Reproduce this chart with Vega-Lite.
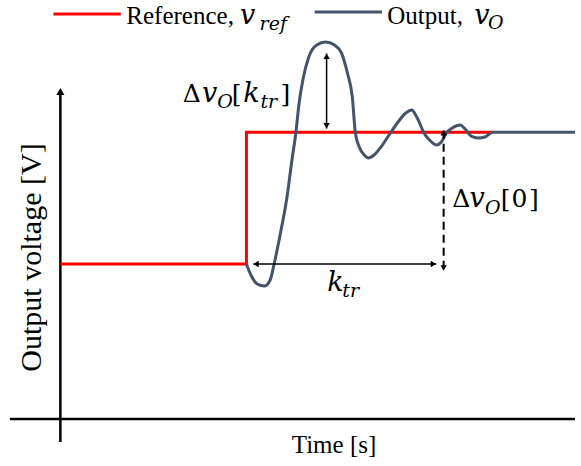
{
  "$schema": "https://vega.github.io/schema/vega-lite/v6.json",
  "width": 581,
  "height": 466,
  "autosize": {"type": "fit", "contains": "padding"},
  "padding": 0,
  "background": "white",
  "config": {"view": {"stroke": null}},
  "encoding": {
    "x": {"field": "t", "type": "quantitative", "scale": {"domain": [-3.245, 27.66], "nice": false, "zero": false}, "axis": null},
    "y": {"field": "v", "type": "quantitative", "scale": {"domain": [-0.606, 5.406], "nice": false, "zero": false}, "axis": null}
  },
  "datasets": {
    "reference": [
      {"i": 0, "t": 0, "v": 2.0},
      {"i": 1, "t": 10, "v": 2.0},
      {"i": 2, "t": 10, "v": 3.7},
      {"i": 3, "t": 23.245, "v": 3.7}
    ],
    "output": [
      {"t": 10.0, "v": 2.0},
      {"t": 10.266, "v": 1.845},
      {"t": 10.585, "v": 1.742},
      {"t": 10.957, "v": 1.716},
      {"t": 11.277, "v": 1.794},
      {"t": 11.489, "v": 2.0},
      {"t": 11.809, "v": 2.374},
      {"t": 12.181, "v": 2.865},
      {"t": 12.447, "v": 3.342},
      {"t": 12.66, "v": 3.7},
      {"t": 12.819, "v": 4.052},
      {"t": 13.032, "v": 4.374},
      {"t": 13.351, "v": 4.671},
      {"t": 13.777, "v": 4.826},
      {"t": 14.255, "v": 4.865},
      {"t": 14.734, "v": 4.826},
      {"t": 15.106, "v": 4.723},
      {"t": 15.426, "v": 4.465},
      {"t": 15.691, "v": 4.155},
      {"t": 15.851, "v": 3.7},
      {"t": 16.064, "v": 3.51},
      {"t": 16.33, "v": 3.406},
      {"t": 16.543, "v": 3.368},
      {"t": 16.862, "v": 3.406},
      {"t": 17.234, "v": 3.51},
      {"t": 17.766, "v": 3.7},
      {"t": 18.191, "v": 3.845},
      {"t": 18.564, "v": 3.948},
      {"t": 18.883, "v": 3.987},
      {"t": 19.096, "v": 3.923},
      {"t": 19.309, "v": 3.819},
      {"t": 19.521, "v": 3.7},
      {"t": 19.84, "v": 3.6},
      {"t": 20.213, "v": 3.535},
      {"t": 20.479, "v": 3.574},
      {"t": 20.745, "v": 3.69},
      {"t": 21.064, "v": 3.755},
      {"t": 21.489, "v": 3.794},
      {"t": 21.755, "v": 3.742},
      {"t": 22.074, "v": 3.652},
      {"t": 22.447, "v": 3.626},
      {"t": 22.819, "v": 3.639},
      {"t": 23.245, "v": 3.7},
      {"t": 27.66, "v": 3.7}
    ],
    "axes": [
      {"name": "time", "t": -2.713, "t2": 27.66, "v": 0, "v2": 0},
      {"name": "voltage", "t": 0, "t2": 0, "v": -0.297, "v2": 4.226}
    ],
    "axis_tip": [{"t": 0, "v": 4.226}],
    "spans": [
      {"label": "overshoot", "t": 14.309, "t2": 14.309, "v": 4.716, "v2": 3.748},
      {"label": "k_tr", "t": 10.372, "t2": 20.197, "v": 2.0, "v2": 2.0}
    ],
    "initial_error": [
      {"t": 20.6, "t2": 20.6, "v": 3.72, "v2": 1.92}
    ],
    "arrowheads": [
      {"dir": "up", "t": 14.309, "v": 4.681},
      {"dir": "down", "t": 14.309, "v": 3.783},
      {"dir": "left", "t": 10.516, "v": 2.0},
      {"dir": "right", "t": 20.053, "v": 2.0},
      {"dir": "up", "t": 20.6, "v": 3.694},
      {"dir": "down", "t": 20.6, "v": 1.948}
    ],
    "legend_keys": [
      {"series": "Reference", "t": -0.372, "t2": 3.245, "v": 5.226, "v2": 5.226},
      {"series": "Output", "t": 13.67, "t2": 17.287, "v": 5.252, "v2": 5.252}
    ],
    "words": [
      {"text": "Reference,", "t": 6.436, "v": 5.097},
      {"text": "Output,", "t": 19.6, "v": 5.097},
      {"text": "Time [s]", "t": 14.707, "v": -0.439}
    ],
    "y_title": [{"text": "Output voltage [V]", "t": -1.064, "v": 2.084}],
    "symbols": [
      {"text": "Δ", "t": 7.059, "v": 4.09},
      {"text": "[", "t": 9.468, "v": 4.09},
      {"text": "]", "t": 12.1, "v": 4.09},
      {"text": "Δ", "t": 21.543, "v": 2.729},
      {"text": "[", "t": 23.936, "v": 2.729},
      {"text": "0", "t": 24.681, "v": 2.729},
      {"text": "]", "t": 25.45, "v": 2.729}
    ],
    "variables": [
      {"text": "v", "t": 10.07, "v": 5.097},
      {"text": "v", "t": 22.66, "v": 5.097},
      {"text": "v", "t": 8.016, "v": 4.09},
      {"text": "k", "t": 10.266, "v": 4.09},
      {"text": "v", "t": 22.394, "v": 2.729},
      {"text": "k", "t": 14.787, "v": 1.652}
    ],
    "subscripts": [
      {"text": "ref", "t": 11.44, "v": 5.019},
      {"text": "O", "t": 23.404, "v": 5.032},
      {"text": "O", "t": 8.846, "v": 4.013},
      {"text": "tr", "t": 11.2, "v": 4.013},
      {"text": "O", "t": 23.245, "v": 2.645},
      {"text": "tr", "t": 15.6, "v": 1.574}
    ]
  },
  "layer": [
    {
      "data": {"name": "axes"},
      "mark": {"type": "rule", "color": "black", "strokeWidth": 2.5},
      "encoding": {"x2": {"field": "t2"}, "y2": {"field": "v2"}}
    },
    {
      "data": {"name": "axis_tip"},
      "mark": {"type": "point", "shape": "triangle-up", "filled": true, "color": "black", "size": 64, "opacity": 1}
    },
    {
      "data": {"name": "reference"},
      "mark": {"type": "line", "color": "#FF0000", "strokeWidth": 3},
      "encoding": {"order": {"field": "i", "type": "quantitative"}}
    },
    {
      "data": {"name": "output"},
      "mark": {"type": "line", "color": "#44546A", "strokeWidth": 3, "interpolate": "monotone"}
    },
    {
      "data": {"name": "spans"},
      "mark": {"type": "rule", "color": "black", "strokeWidth": 1.5},
      "encoding": {"x2": {"field": "t2"}, "y2": {"field": "v2"}}
    },
    {
      "data": {"name": "initial_error"},
      "mark": {"type": "rule", "color": "black", "strokeWidth": 2, "strokeDash": [8, 5]},
      "encoding": {"x2": {"field": "t2"}, "y2": {"field": "v2"}}
    },
    {
      "data": {"name": "arrowheads"},
      "transform": [{"filter": "datum.dir === 'up'"}],
      "mark": {"type": "point", "shape": "triangle-up", "filled": true, "color": "black", "size": 40, "opacity": 1}
    },
    {
      "data": {"name": "arrowheads"},
      "transform": [{"filter": "datum.dir === 'down'"}],
      "mark": {"type": "point", "shape": "triangle-down", "filled": true, "color": "black", "size": 40, "opacity": 1}
    },
    {
      "data": {"name": "arrowheads"},
      "transform": [{"filter": "datum.dir === 'left'"}],
      "mark": {"type": "point", "shape": "triangle-left", "filled": true, "color": "black", "size": 40, "opacity": 1}
    },
    {
      "data": {"name": "arrowheads"},
      "transform": [{"filter": "datum.dir === 'right'"}],
      "mark": {"type": "point", "shape": "triangle-right", "filled": true, "color": "black", "size": 40, "opacity": 1}
    },
    {
      "data": {"name": "legend_keys"},
      "mark": {"type": "rule", "strokeWidth": 3},
      "encoding": {
        "x2": {"field": "t2"},
        "y2": {"field": "v2"},
        "color": {"field": "series", "type": "nominal", "scale": {"domain": ["Reference", "Output"], "range": ["#FF0000", "#44546A"]}, "legend": null}
      }
    },
    {
      "data": {"name": "words"},
      "mark": {"type": "text", "font": "'Liberation Serif', 'Times New Roman', serif", "fontSize": 25, "align": "center", "baseline": "alphabetic", "color": "black"},
      "encoding": {"text": {"field": "text", "type": "nominal"}}
    },
    {
      "data": {"name": "y_title"},
      "mark": {"type": "text", "font": "'Liberation Serif', 'Times New Roman', serif", "fontSize": 30, "angle": 270, "align": "center", "baseline": "alphabetic", "color": "black"},
      "encoding": {"text": {"field": "text", "type": "nominal"}}
    },
    {
      "data": {"name": "symbols"},
      "mark": {"type": "text", "font": "'DejaVu Serif', serif", "fontSize": 25, "align": "center", "baseline": "alphabetic", "color": "black"},
      "encoding": {"text": {"field": "text", "type": "nominal"}}
    },
    {
      "data": {"name": "variables"},
      "mark": {"type": "text", "font": "'DejaVu Serif', serif", "fontStyle": "italic", "fontSize": 27, "align": "center", "baseline": "alphabetic", "color": "black"},
      "encoding": {"text": {"field": "text", "type": "nominal"}}
    },
    {
      "data": {"name": "subscripts"},
      "mark": {"type": "text", "font": "'DejaVu Serif', serif", "fontStyle": "italic", "fontSize": 19, "align": "center", "baseline": "alphabetic", "color": "black"},
      "encoding": {"text": {"field": "text", "type": "nominal"}}
    }
  ]
}
